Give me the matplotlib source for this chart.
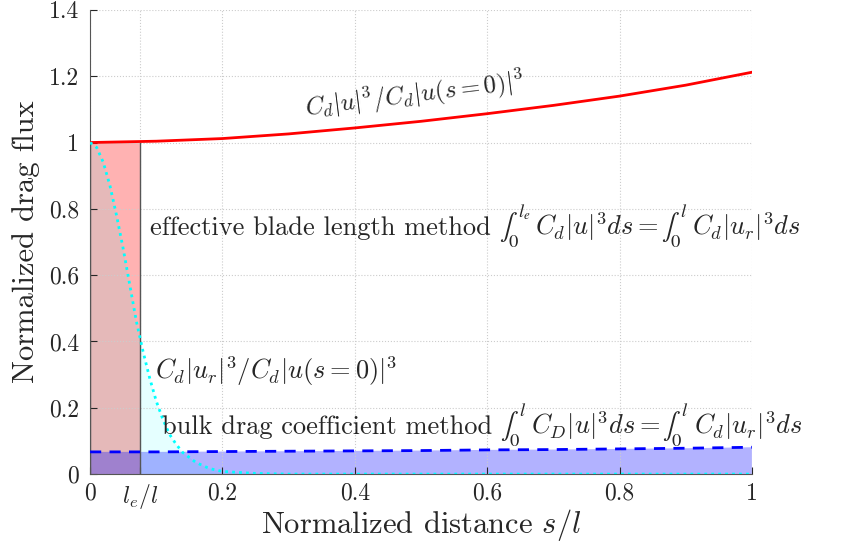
import matplotlib
matplotlib.use('Agg')
from matplotlib import pyplot as plt
from matplotlib.transforms import IdentityTransform

plt.rcParams['font.family'] = 'cmr10'
plt.rcParams['mathtext.fontset'] = 'cm'
plt.rcParams['axes.formatter.use_mathtext'] = True

# Normalized distance and flux values
le = 0.075
s_full = [0, 0.1, 0.2, 0.3, 0.4, 0.5, 0.6, 0.7, 0.8, 0.9, 1.0]
flux_u = [1.0, 1.004, 1.012, 1.026, 1.044, 1.064, 1.087, 1.112, 1.14, 1.173, 1.212]
flux_bulk = [0.067, 0.067, 0.068, 0.069, 0.070, 0.071, 0.073, 0.074, 0.076, 0.078, 0.081]

s_ur = [0, 0.01, 0.02, 0.03, 0.04, 0.05, 0.06, 0.07, 0.08, 0.09, 0.10, 0.11, 0.12,
        0.13, 0.14, 0.16, 0.18, 0.20, 0.25, 0.3, 0.4, 0.6, 0.8, 1.0]
flux_ur = [1.0, 0.985, 0.94, 0.87, 0.78, 0.68, 0.57, 0.46, 0.37, 0.29, 0.22, 0.165, 0.12,
           0.09, 0.065, 0.035, 0.017, 0.008, 0.002, 0.0, 0.0, 0.0, 0.0, 0.0]

xticks = [0, le, 0.2, 0.4, 0.6, 0.8, 1]
xticklabels = ['0', r'$l_e/l$', '0.2', '0.4', '0.6', '0.8', '1']
yticks = [0, 0.2, 0.4, 0.6, 0.8, 1, 1.2, 1.4]
yticklabels = ['0', '0.2', '0.4', '0.6', '0.8', '1', '1.2', '1.4']

txt = '#262626'

fig = plt.figure(figsize=(8.42, 5.5), dpi=100)
ax = fig.add_axes([0.107, 0.138, 0.786, 0.844])

# shaded areas
ax.fill_between([0, le], [flux_u[0], flux_u[0]], color='red', alpha=0.3,
                edgecolor='none', zorder=1)
ax.plot([le, le], [0, flux_u[0]], color='#555555', lw=1.0, zorder=2)
ax.plot([0, 0], [0, flux_u[0]], color='#555555', lw=1.0, zorder=2)
ax.fill_between(s_ur, flux_ur, color='cyan', alpha=0.1, edgecolor='none', zorder=1)
ax.fill_between(s_full, flux_bulk, color='blue', alpha=0.3, edgecolor='none', zorder=1)

# curves
ax.plot(s_full, flux_u, color='red', lw=2, zorder=3)
ax.plot(s_ur, flux_ur, color='cyan', lw=2, linestyle=(0, (1, 1.5)), zorder=3)
ax.plot(s_full, flux_bulk, color='blue', lw=2, linestyle=(0, (4, 3)), zorder=3)

ax.set_xlim(0, 1)
ax.set_ylim(0, 1.4)
ax.set_xticks(xticks)
ax.set_xticklabels(xticklabels)
ax.set_yticks(yticks)
ax.set_yticklabels(yticklabels)
ax.tick_params(direction='in', labelsize=17, colors=txt, length=5, pad=6)
ax.tick_params(axis='y', pad=8)
ax.grid(True, linestyle=':', color='#cccccc', lw=0.8)
for side in ['top', 'right']:
    ax.spines[side].set_visible(False)
for side in ['left', 'bottom']:
    ax.spines[side].set_color('#555555')

ax.set_xlabel(r'Normalized distance $s/l$', fontsize=22, color=txt, labelpad=-3)
ax.set_ylabel('Normalized drag flux', fontsize=22, color=txt, labelpad=6)

# annotations
ax.text(0.49, 1.145, r'$C_d|u|^3/C_d|u(s=0)|^3$', fontsize=18, rotation=7,
        ha='center', va='center', color=txt)
ax.text(0.098, 0.31, r'$C_d|u_r|^3/C_d|u(s=0)|^3$', fontsize=19, ha='left',
        va='center', color=txt)

renderer = fig.canvas.get_renderer()


def chain_text(x, y, pieces, size=19):
    # put pieces one after another on the same baseline
    xd, yd = ax.transData.transform((x, y))
    for s, fam, gap in pieces:
        t = ax.text(xd, yd, s, transform=IdentityTransform(), fontsize=size,
                    va='baseline', ha='left', color=txt, math_fontfamily=fam)
        xd = t.get_window_extent(renderer).x1 + gap


chain_text(0.09, 0.72, [
    ('effective blade length method', 'cm', 8),
    (r'$\int_0^{l_e}$', 'stix', 5),
    (r'$C_d|u|^3ds =$', 'cm', 2),
    (r'$\int_0^{l}$', 'stix', 5),
    (r'$C_d|u_r|^3ds$', 'cm', 0),
])
chain_text(0.108, 0.12, [
    ('bulk drag coefficient method', 'cm', 8),
    (r'$\int_0^{l}$', 'stix', 5),
    (r'$C_D|u|^3ds =$', 'cm', 2),
    (r'$\int_0^{l}$', 'stix', 5),
    (r'$C_d|u_r|^3ds$', 'cm', 0),
])

fig.savefig('out.png', dpi=100)
